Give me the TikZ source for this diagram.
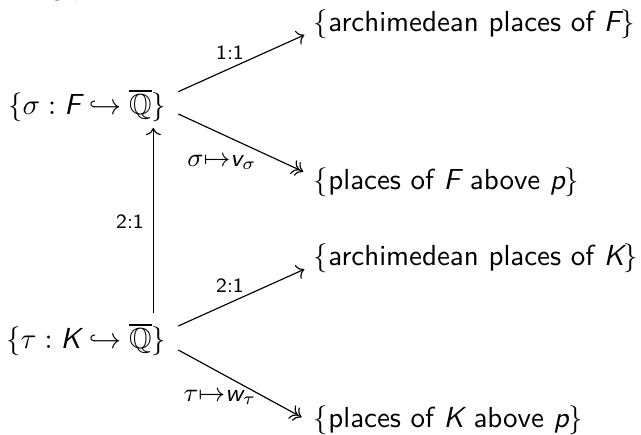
\documentclass[tikz,border=0pt]{standalone}
\usepackage{amsmath,amssymb}
\usetikzlibrary{cd}
\renewcommand{\familydefault}{\sfdefault}
% sans slanted letters used as math variables
\newcommand{\slv}[1]{\text{\itshape #1}}
\definecolor{titleblue}{RGB}{51,51,178}

\begin{document}
\begin{tikzpicture}[x=0.345pt,y=-0.345pt,
  setnode/.style={inner sep=0pt, font=\normalsize},
  lbl/.style={inner sep=0pt, font=\scriptsize},
  maplbl/.style={inner sep=0pt, font=\fontsize{8.6}{10}\selectfont},
  arr/.style={line width=0.4pt, -{cm to}},
  surj/.style={line width=0.4pt, -{cm double to}}]
\useasboundingbox (0,0) rectangle (641,435);

% descenders of the frame title, cut by the top edge
\begin{scope}
  \clip (0,0) rectangle (641,4);
  \node[anchor=base west, inner sep=0pt, text=titleblue, font=\Large\sffamily] (ttl) at (53,-7) {yp};
\end{scope}

% the six sets
\node[setnode, anchor=base east] (sF) at (166.7,115) {$\{\sigma : \slv{F} \hookrightarrow \overline{\mathbb{Q}}\}$};
\node[setnode, anchor=base east] (tK) at (166.7,349) {$\{\tau : \slv{K} \hookrightarrow \overline{\mathbb{Q}}\}$};
\node[setnode, anchor=base west] (aF) at (313.3,31.7) {$\{$archimedean places of $\slv{F}\}$};
\node[setnode, anchor=base west] (pF) at (313.3,190) {$\{$places of $\slv{F}$ above $\slv{p}\}$};
\node[setnode, anchor=base west] (aK) at (313.3,266) {$\{$archimedean places of $\slv{K}\}$};
\node[setnode, anchor=base west] (pK) at (313.3,428) {$\{$places of $\slv{K}$ above $\slv{p}\}$};

% maps
\draw[arr]  ([shift={(11.6,-23.3)}]sF.base east) -- ([shift={(-9,3.3)}]aF.base west);
\draw[surj] ([shift={(11.6,-1)}]sF.base east) -- ([shift={(-10,-18.3)}]pF.base west);
\draw[arr]  ([shift={(-13.4,-36)}]tK.base east) -- ([shift={(-13.4,13)}]sF.base east);
\draw[arr]  ([shift={(11.6,-23)}]tK.base east) -- ([shift={(-9,3.3)}]aK.base west);
\draw[surj] ([shift={(11.6,1)}]tK.base east) -- ([shift={(-11.6,-10.7)}]pK.base west);

% labels of the maps
\node[lbl] (l1) at (230,53) {1:1};
\node[maplbl] (l2) at (222,162) {$\sigma{\mapsto}\slv{v}_\sigma$};
\node[lbl] (l3) at (130,222) {2:1};
\node[lbl] (l4) at (230,286) {2:1};
\node[maplbl] (l5) at (220,397) {$\tau{\mapsto}\slv{w}_\tau$};
\end{tikzpicture}
\end{document}
